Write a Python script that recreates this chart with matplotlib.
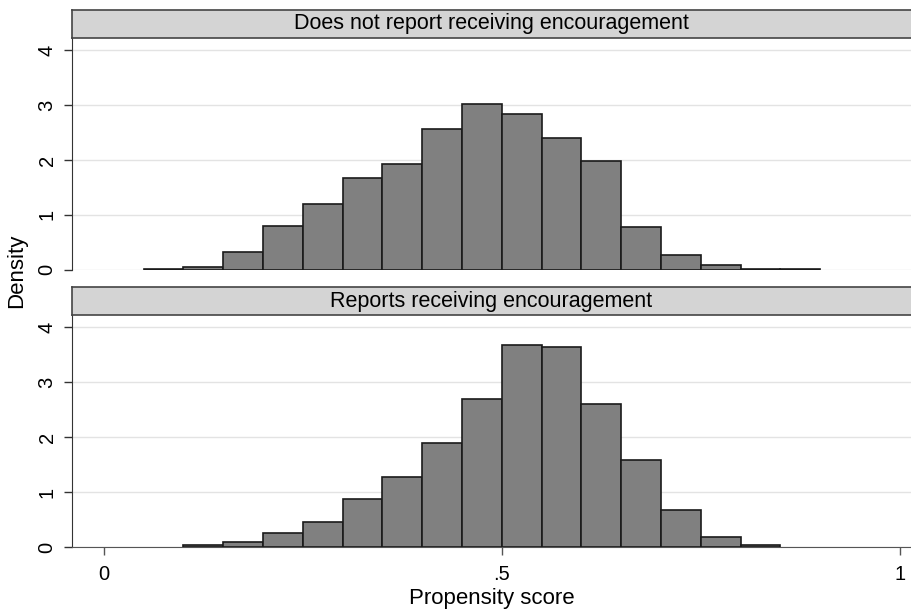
import matplotlib
matplotlib.use("Agg")
import matplotlib.pyplot as plt
import numpy as np

plt.rcParams['font.family'] = ['Liberation Sans', 'DejaVu Sans']

# bin edges of the histograms (width .05)
edges_no = np.round(np.arange(0.05, 0.901, 0.05), 2)
edges_yes = np.round(np.arange(0.10, 0.851, 0.05), 2)

# densities, one value per bin
no_encouragement = [0.01, 0.05, 0.33, 0.80, 1.20, 1.68, 1.93, 2.57, 3.02, 2.83,
                    2.40, 1.99, 0.78, 0.28, 0.09, 0.02, 0.01]
encouragement = [0.03, 0.10, 0.25, 0.45, 0.88, 1.27, 1.89, 2.70, 3.68,
                 3.64, 2.60, 1.58, 0.68, 0.18, 0.03]

panel_titles = ['Does not report receiving encouragement',
                'Reports receiving encouragement']
x_ticks = [0, 0.5, 1]
x_tick_labels = ['0', '.5', '1']
y_ticks = [0, 1, 2, 3, 4]

fig = plt.figure(figsize=(9.11, 6.12), dpi=100)
left, width = 0.079, 0.921
axes_boxes = [(0.559, 0.379), (0.106, 0.379)]
strip_h = 0.0458

panels = [(edges_no, no_encouragement), (edges_yes, encouragement)]
for k, ((edges, vals), title) in enumerate(zip(panels, panel_titles)):
    bottom, height = axes_boxes[k]
    ax = fig.add_axes([left, bottom, width, height])
    ax.hist(edges[:-1], bins=edges, weights=vals,
            color='#808080', edgecolor='#1a1a1a', linewidth=1.2, zorder=3)
    ax.set_xlim(-0.04, 1.014)
    ax.set_ylim(0, 4.22)
    ax.set_yticks(y_ticks)
    ax.set_yticklabels([str(t) for t in y_ticks], rotation=90, va='center')
    ax.yaxis.grid(True, color='#e3e3e3', linewidth=1.0, zorder=0)
    ax.set_axisbelow(True)
    for side in ['top', 'right']:
        ax.spines[side].set_visible(False)
    ax.spines['left'].set_color('#333333')
    ax.tick_params(axis='y', length=6, width=1, color='#333333', labelsize=14.5, pad=5)
    if k == 0:
        ax.spines['bottom'].set_visible(False)
        ax.set_xticks([])
    else:
        ax.spines['bottom'].set_color('#555555')
        ax.set_xticks(x_ticks)
        ax.set_xticklabels(x_tick_labels)
        ax.tick_params(axis='x', length=6, width=1, color='#555555', labelsize=14.5, pad=7)
        ax.set_xlabel('Propensity score', fontsize=16, labelpad=3)

    # grey title strip above each panel
    strip = fig.add_axes([left, bottom + height, width + 0.01, strip_h])
    strip.set_facecolor('#d4d4d4')
    strip.set_xticks([])
    strip.set_yticks([])
    for s in strip.spines.values():
        s.set_color('#444444')
        s.set_linewidth(1.2)
    strip.text(0.5 * width / (width + 0.01), 0.5, title, ha='center', va='center',
               fontsize=15.5, transform=strip.transAxes)

fig.text(0.018, 0.558, 'Density', rotation=90, ha='center', va='center', fontsize=16)

fig.savefig('out.png', dpi=100)
